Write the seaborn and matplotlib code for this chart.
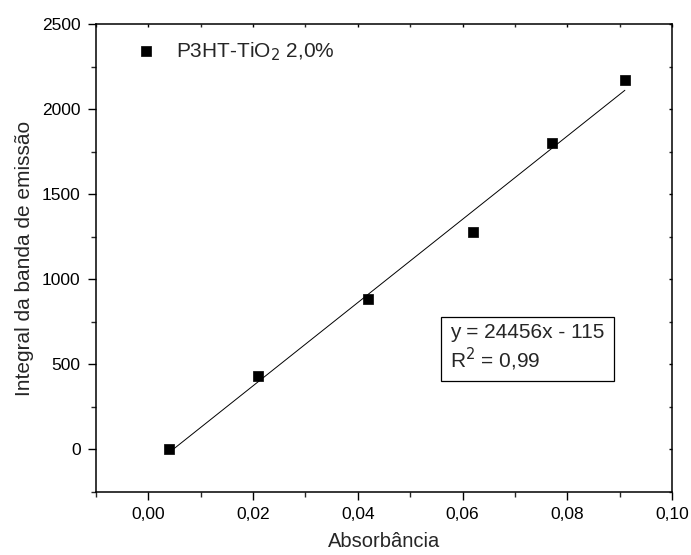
import matplotlib
matplotlib.use("Agg")
import matplotlib.pyplot as plt
import seaborn as sns
import numpy as np
import pandas as pd
from matplotlib.patches import Rectangle
from matplotlib.ticker import MultipleLocator, FixedLocator, FixedFormatter

# ---- data ----
absorbancia = [0.004, 0.021, 0.042, 0.062, 0.077, 0.091]
integral = [5, 430, 885, 1280, 1800, 2170]
series_label = "P3HT-TiO$_2$ 2,0%"
fit_slope = 24456
fit_intercept = -115
fit_x_range = [0.004, 0.091]
fit_text = "y = 24456x - 115\nR$^2$ = 0,99"
x_ticks = [0.00, 0.02, 0.04, 0.06, 0.08, 0.10]
x_tick_labels = ["0,00", "0,02", "0,04", "0,06", "0,08", "0,10"]
y_ticks = [0, 500, 1000, 1500, 2000, 2500]
y_tick_labels = ["0", "500", "1000", "1500", "2000", "2500"]
x_label = "Absorbância"
y_label = "Integral da banda de emissão"

sns.set_style("ticks")
plt.rcParams["font.family"] = ["Liberation Sans", "DejaVu Sans"]

fig = plt.figure(figsize=(6.91, 5.55), dpi=100)
ax = fig.add_axes([96 / 691, 1 - 492 / 555, 576 / 691, 468 / 555])

df = pd.DataFrame({"x": absorbancia, "y": integral})
fit_df = pd.DataFrame({"x": fit_x_range,
                       "y": [fit_slope * v + fit_intercept for v in fit_x_range]})

sns.lineplot(data=fit_df, x="x", y="y", ax=ax, color="black", lw=0.7, legend=False)
sns.scatterplot(data=df, x="x", y="y", ax=ax, marker="s", s=55, color="black",
                edgecolor="black", linewidth=0.5, label=series_label, zorder=3)

ax.set_xlim(-0.01, 0.10)
ax.set_ylim(-250, 2500)
ax.xaxis.set_major_locator(FixedLocator(x_ticks))
ax.xaxis.set_major_formatter(FixedFormatter(x_tick_labels))
ax.yaxis.set_major_locator(FixedLocator(y_ticks))
ax.yaxis.set_major_formatter(FixedFormatter(y_tick_labels))
ax.xaxis.set_minor_locator(MultipleLocator(0.01))
ax.yaxis.set_minor_locator(MultipleLocator(250))

for s in ax.spines.values():
    s.set_linewidth(1.1)
    s.set_color("black")
    s.set_visible(True)

ax.tick_params(axis="both", which="major", direction="out", length=6, width=1.0,
               labelsize=12.5, colors="black", pad=5)
ax.tick_params(axis="both", which="minor", direction="out", length=3.5, width=1.0)
ax.tick_params(top=True, right=True, which="both")
for t in ax.xaxis.get_major_ticks() + ax.xaxis.get_minor_ticks():
    t.tick2line.set_markersize(2)
    t.tick2line.set_marker(3)
for t in ax.yaxis.get_major_ticks() + ax.yaxis.get_minor_ticks():
    t.tick2line.set_markersize(2)
    t.tick2line.set_marker(0)

ax.set_xlabel(x_label, fontsize=14.5, labelpad=7)
ax.set_ylabel(y_label, fontsize=15, labelpad=6)

leg = ax.legend(loc="upper left", bbox_to_anchor=(0.071, 0.966), frameon=False,
                fontsize=15, handlelength=0.9, handletextpad=1.0,
                borderaxespad=0, borderpad=0, markerscale=0.9)

# fit annotation box
ax.add_patch(Rectangle((441, 555 - 381), 173, 64, transform=None, fill=False,
                       edgecolor="black", linewidth=0.9, zorder=4))
fig.text(450 / 691, 1 - 348 / 555, fit_text, fontsize=15, va="center", ha="left",
         linespacing=1.15)

fig.savefig("out.png", dpi=100)
